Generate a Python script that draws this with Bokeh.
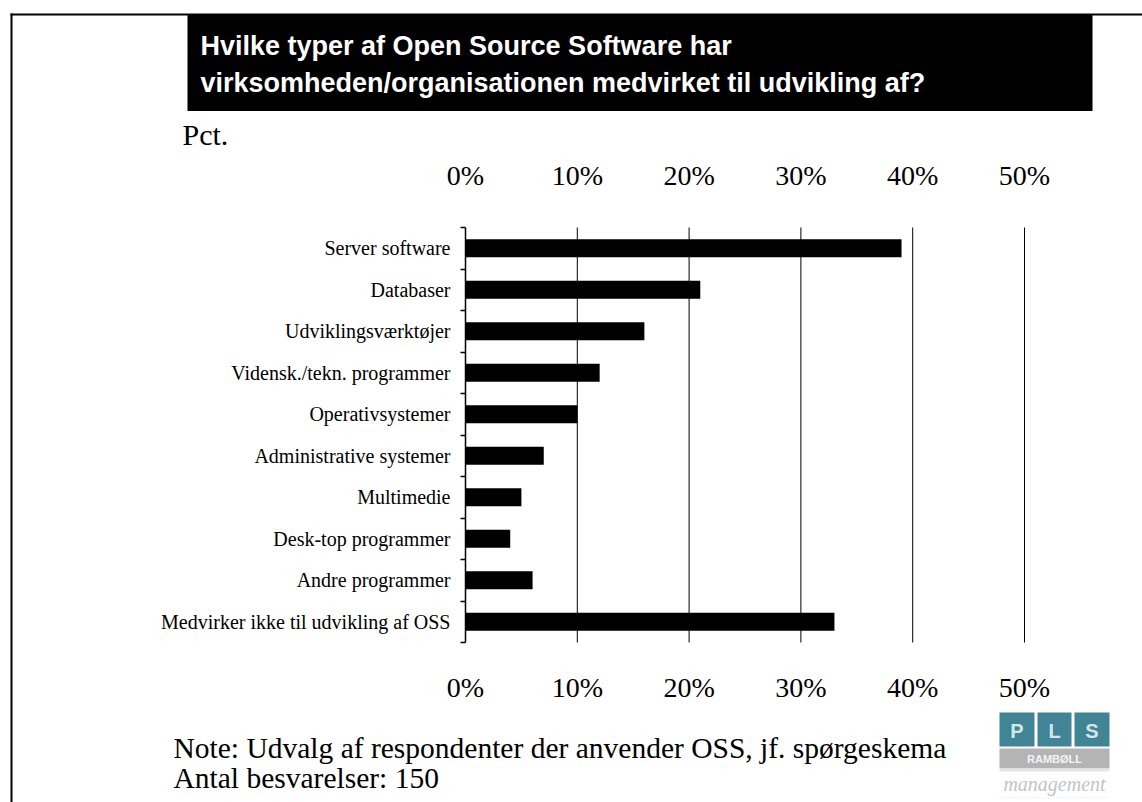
from bokeh.plotting import figure
from bokeh.models import (Range1d, LinearAxis, FixedTicker,
                          PrintfTickFormatter, CustomJSTickFormatter, Label,
                          BoxAnnotation, ColumnDataSource)
from bokeh.embed import file_html
from bokeh.resources import INLINE

# ---------------- data ----------------
title_lines = ["Hvilke typer af Open Source Software har",
               "virksomheden/organisationen medvirket til udvikling af?"]
categories = ["Server software", "Databaser", "Udviklingsværktøjer",
              "Vidensk./tekn. programmer", "Operativsystemer",
              "Administrative systemer", "Multimedie", "Desk-top programmer",
              "Andre programmer", "Medvirker ikke til udvikling af OSS"]
values = [39, 21, 16, 12, 10, 7, 5, 4, 6, 33]
tick_values = [0, 10, 20, 30, 40, 50]
unit_label = "Pct."
note_lines = ["Note: Udvalg af respondenter der anvender OSS, jf. spørgeskema",
              "Antal besvarelser: 150"]
logo_letters = ["P", "L", "S"]
logo_band = "RAMBØLL"
logo_sub = "management"

# ---------------- layout ----------------
W, H = 1142, 802
N = len(categories)
LEFT, PX_PER = 465, 11.18      # pixel of 0 %, pixels per 1 %
TOP, SLOT = 227, 41.5          # pixel of first slot edge, pixels per category

p = figure(width=W, height=H,
           x_range=Range1d(-LEFT / PX_PER, (W - LEFT) / PX_PER),
           y_range=Range1d((H - TOP) / SLOT, -TOP / SLOT),
           output_backend="svg", toolbar_location=None,
           x_axis_location=None, y_axis_location=None,
           min_border=0, outline_line_color=None,
           background_fill_color="white", border_fill_color="white")
p.grid.visible = False

# page-pixel ranges for the decorations around the chart
p.extra_x_ranges = {"px": Range1d(0, W)}
p.extra_y_ranges = {"py": Range1d(H, 0)}

# vertical gridlines between first and last category slot
grid_x = tick_values[1:]
p.segment(x0=grid_x, x1=grid_x, y0=[0] * len(grid_x), y1=[N] * len(grid_x),
          line_color="black", line_width=1)

# bars: category slot i spans [i, i+1]
centers = [i + 0.5 for i in range(N)]
src = ColumnDataSource(dict(cat=categories, y=centers, val=values))
p.hbar(y="y", left=0, right="val", height=0.43, source=src,
       fill_color="black", line_color=None)

serif = "Liberation Serif"


def pct_axis(loc, standoff):
    return LinearAxis(ticker=FixedTicker(ticks=tick_values),
                      formatter=PrintfTickFormatter(format="%d%%"),
                      fixed_location=loc, bounds=(0, tick_values[-1]),
                      axis_line_color=None, major_tick_line_color=None,
                      minor_tick_line_color=None, major_tick_out=0, major_tick_in=0,
                      major_label_standoff=standoff, major_label_text_font=serif,
                      major_label_text_font_size="28px",
                      major_label_text_color="black")


p.add_layout(pct_axis(0, 37), "above")
p.add_layout(pct_axis(N, 29), "below")

# axis line + ticks between categories
ax_ticks = LinearAxis(ticker=FixedTicker(ticks=list(range(N + 1))),
                      formatter=CustomJSTickFormatter(code="return ''"),
                      fixed_location=0, bounds=(0, N),
                      major_tick_out=5, major_tick_in=0, major_tick_line_width=1.5,
                      major_tick_line_color="black",
                      axis_line_width=1.5, axis_line_color="black",
                      minor_tick_line_color=None, major_label_standoff=0)
p.add_layout(ax_ticks, "left")

# category names at slot centres
ax_cat = LinearAxis(ticker=FixedTicker(ticks=centers),
                    formatter=CustomJSTickFormatter(args=dict(labels=categories),
                                                    code="return labels[Math.floor(tick)] || ''"),
                    fixed_location=0, bounds=(0, N),
                    axis_line_color=None, major_tick_line_color=None,
                    minor_tick_line_color=None,
                    major_tick_out=0, major_tick_in=0, major_label_standoff=15,
                    major_label_text_font=serif, major_label_text_font_size="20px",
                    major_label_text_color="black")
p.add_layout(ax_cat, "left")


def box(l, r, t, b, **kw):
    kw.setdefault("line_color", None)
    kw.setdefault("fill_alpha", 1)
    p.add_layout(BoxAnnotation(left=l, right=r, top=t, bottom=b,
                               x_range_name="px", y_range_name="py", **kw))


def label(text, x, y, **kw):
    kw.setdefault("text_baseline", "middle")
    p.add_layout(Label(x=x, y=y, text=text, x_range_name="px",
                       y_range_name="py", **kw))


# frame lines
box(10, W + 5, 13, 15, fill_color="black")
box(10, 12, 13, H + 5, fill_color="black")

# title box
box(187, 1092, 14, 110.5, fill_color="black")
label(title_lines[0], 200, 45, text_font="Liberation Sans", text_font_style="bold",
      text_font_size="27px", text_color="white")
label(title_lines[1], 200, 82, text_font="Liberation Sans", text_font_style="bold",
      text_font_size="27px", text_color="white")

label(unit_label, 182, 134, text_font=serif, text_font_size="30px",
      text_color="black")

label(note_lines[0], 173, 747, text_font=serif, text_font_size="29.5px",
      text_color="black")
label(note_lines[1], 173, 777, text_font=serif, text_font_size="29.5px",
      text_color="black")

# logo
teal = "#408496"
for (l, r), letter in zip([(999, 1034), (1037, 1071), (1074, 1109)], logo_letters):
    box(l, r, 712, 746, fill_color=teal)
    label(letter, (l + r) / 2, 730, text_font="Liberation Sans", text_font_style="bold",
          text_font_size="20px", text_color="#d6e6ea", text_align="center")
box(999, 1109, 748, 768, fill_color="#b4b4b4")
box(999, 1109, 768, 771, fill_color="#e6e6e6")
label(logo_band, 1054, 758.5, text_font="Liberation Sans", text_font_style="bold",
      text_font_size="11px", text_color="#f4f4f4", text_align="center")
label(logo_sub, 1054, 783, text_font=serif, text_font_style="italic",
      text_font_size="20px", text_color="#c4c4c4", text_align="center")
box(999, 1109, 797, 797, fill_color=None, line_color="#9cc3cf", line_width=1.5,
    line_dash="1 2")

open("out.html", "w").write(file_html(p, INLINE))
